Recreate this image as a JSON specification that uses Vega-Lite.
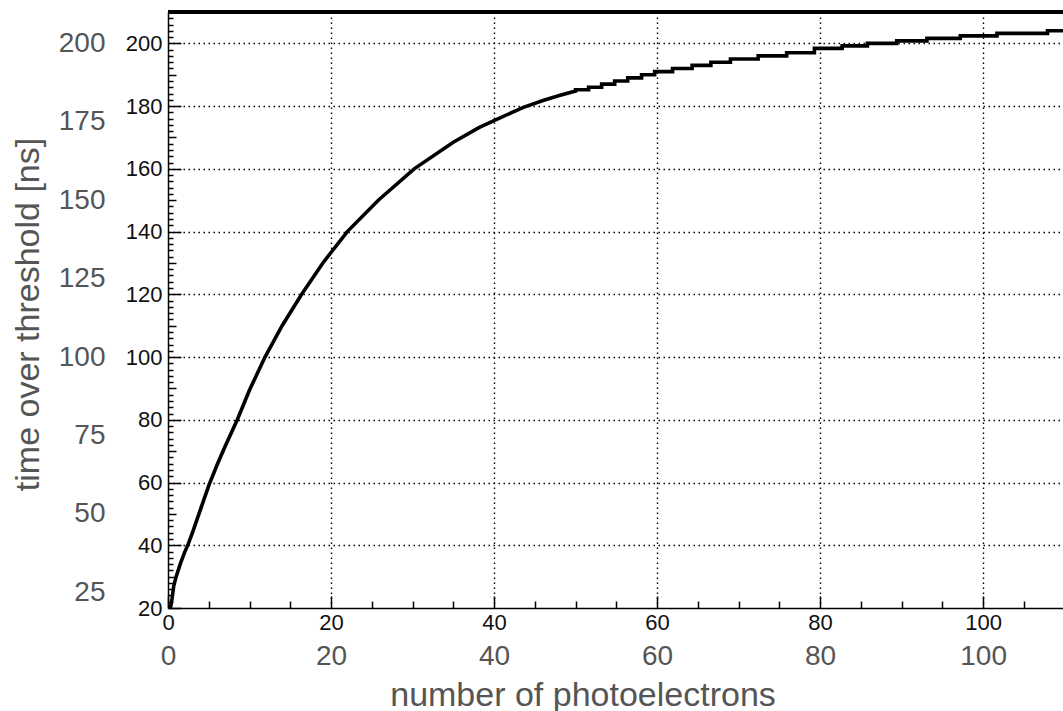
{
  "$schema": "https://vega.github.io/schema/vega-lite/v6.json",
  "width": 895,
  "height": 596,
  "autosize": {"type": "none"},
  "padding": {"left": 168, "top": 12, "right": 0, "bottom": 103},
  "background": "white",
  "config": {"view": {"stroke": null}, "font": "Liberation Sans"},
  "data": {
    "values": [
      {"photoelectrons": 0, "tot_ns": 20},
      {"photoelectrons": 0.3, "tot_ns": 20},
      {"photoelectrons": 0.5, "tot_ns": 23},
      {"photoelectrons": 0.7, "tot_ns": 27},
      {"photoelectrons": 1.0, "tot_ns": 30},
      {"photoelectrons": 1.5, "tot_ns": 34},
      {"photoelectrons": 2.0, "tot_ns": 37.5},
      {"photoelectrons": 2.5, "tot_ns": 40.5},
      {"photoelectrons": 3.0, "tot_ns": 44},
      {"photoelectrons": 4.0, "tot_ns": 51.5},
      {"photoelectrons": 5.0, "tot_ns": 59},
      {"photoelectrons": 6.0, "tot_ns": 65.5},
      {"photoelectrons": 7.0, "tot_ns": 71.5},
      {"photoelectrons": 8.5, "tot_ns": 80},
      {"photoelectrons": 10, "tot_ns": 89.5},
      {"photoelectrons": 11.9, "tot_ns": 100},
      {"photoelectrons": 14, "tot_ns": 110},
      {"photoelectrons": 16.4, "tot_ns": 120},
      {"photoelectrons": 19, "tot_ns": 130},
      {"photoelectrons": 22, "tot_ns": 140},
      {"photoelectrons": 25.8, "tot_ns": 150},
      {"photoelectrons": 30.2, "tot_ns": 160},
      {"photoelectrons": 35, "tot_ns": 168.5},
      {"photoelectrons": 38.2, "tot_ns": 173.2},
      {"photoelectrons": 40, "tot_ns": 175.4},
      {"photoelectrons": 43.6, "tot_ns": 179.6},
      {"photoelectrons": 46, "tot_ns": 181.8},
      {"photoelectrons": 48, "tot_ns": 183.4},
      {"photoelectrons": 50, "tot_ns": 184.8},
      {"photoelectrons": 50, "tot_ns": 185.2},
      {"photoelectrons": 51.6, "tot_ns": 185.2},
      {"photoelectrons": 51.6, "tot_ns": 186},
      {"photoelectrons": 53.2, "tot_ns": 186},
      {"photoelectrons": 53.2, "tot_ns": 187},
      {"photoelectrons": 54.8, "tot_ns": 187},
      {"photoelectrons": 54.8, "tot_ns": 188},
      {"photoelectrons": 56.4, "tot_ns": 188},
      {"photoelectrons": 56.4, "tot_ns": 189},
      {"photoelectrons": 58.1, "tot_ns": 189},
      {"photoelectrons": 58.1, "tot_ns": 190},
      {"photoelectrons": 59.7, "tot_ns": 190},
      {"photoelectrons": 59.7, "tot_ns": 191},
      {"photoelectrons": 61.9, "tot_ns": 191},
      {"photoelectrons": 61.9, "tot_ns": 192},
      {"photoelectrons": 64.3, "tot_ns": 192},
      {"photoelectrons": 64.3, "tot_ns": 193},
      {"photoelectrons": 66.6, "tot_ns": 193},
      {"photoelectrons": 66.6, "tot_ns": 194},
      {"photoelectrons": 69, "tot_ns": 194},
      {"photoelectrons": 69, "tot_ns": 195},
      {"photoelectrons": 72.4, "tot_ns": 195},
      {"photoelectrons": 72.4, "tot_ns": 196},
      {"photoelectrons": 75.9, "tot_ns": 196},
      {"photoelectrons": 75.9, "tot_ns": 197},
      {"photoelectrons": 79.3, "tot_ns": 197},
      {"photoelectrons": 79.3, "tot_ns": 198.4},
      {"photoelectrons": 82.7, "tot_ns": 198.4},
      {"photoelectrons": 82.7, "tot_ns": 199.2},
      {"photoelectrons": 85.8, "tot_ns": 199.2},
      {"photoelectrons": 85.8, "tot_ns": 200},
      {"photoelectrons": 89.4, "tot_ns": 200},
      {"photoelectrons": 89.4, "tot_ns": 200.8},
      {"photoelectrons": 93.1, "tot_ns": 200.8},
      {"photoelectrons": 93.1, "tot_ns": 201.6},
      {"photoelectrons": 97.2, "tot_ns": 201.6},
      {"photoelectrons": 97.2, "tot_ns": 202.4},
      {"photoelectrons": 101.7, "tot_ns": 202.4},
      {"photoelectrons": 101.7, "tot_ns": 203.2},
      {"photoelectrons": 107.9, "tot_ns": 203.2},
      {"photoelectrons": 107.9, "tot_ns": 204},
      {"photoelectrons": 110, "tot_ns": 204}
    ]
  },
  "layer": [
    {
      "mark": {"type": "line", "color": "black", "strokeWidth": 3.6, "clip": true},
      "encoding": {
        "x": {
          "field": "photoelectrons",
          "type": "quantitative",
          "scale": {"domain": [0, 109.8], "nice": false, "zero": false},
          "axis": {
            "orient": "bottom",
            "title": null,
            "values": [0, 5, 10, 15, 20, 25, 30, 35, 40, 45, 50, 55, 60, 65, 70, 75, 80, 85, 90, 95, 100, 105],
            "domain": true,
            "domainColor": "black",
            "domainWidth": 1.5,
            "grid": true,
            "gridColor": "black",
            "gridDash": [1.5, 3.5],
            "gridWidth": 1.4,
            "gridOpacity": {"condition": {"test": "datum.value % 20 === 0 && datum.value > 0", "value": 1}, "value": 0},
            "ticks": true,
            "tickColor": "black",
            "tickWidth": 1.5,
            "tickSize": {"condition": {"test": "datum.value % 20 === 0", "value": -12}, "value": -7},
            "labelExpr": "datum.value % 20 === 0 ? datum.label : ''",
            "labelFont": "Liberation Sans",
            "labelFontSize": 22,
            "labelColor": "#111111",
            "labelPadding": 16,
            "labelFlush": false,
            "labelOverlap": false,
            "labelBound": false
          }
        },
        "y": {
          "field": "tot_ns",
          "type": "quantitative",
          "scale": {"domain": [20, 210], "nice": false, "zero": false},
          "axis": {
            "orient": "left",
            "title": null,
            "values": [20, 22, 24, 26, 28, 30, 32, 34, 36, 38, 40, 42, 44, 46, 48, 50, 52, 54, 56, 58, 60, 62, 64, 66, 68, 70, 72, 74, 76, 78, 80, 82, 84, 86, 88, 90, 92, 94, 96, 98, 100, 102, 104, 106, 108, 110, 112, 114, 116, 118, 120, 122, 124, 126, 128, 130, 132, 134, 136, 138, 140, 142, 144, 146, 148, 150, 152, 154, 156, 158, 160, 162, 164, 166, 168, 170, 172, 174, 176, 178, 180, 182, 184, 186, 188, 190, 192, 194, 196, 198, 200, 202, 204, 206, 208],
            "domain": true,
            "domainColor": "black",
            "domainWidth": 1.5,
            "grid": true,
            "gridColor": "black",
            "gridDash": [1.5, 3.5],
            "gridWidth": 1.4,
            "gridOpacity": {"condition": {"test": "datum.value % 20 === 0 && datum.value > 20", "value": 1}, "value": 0},
            "ticks": true,
            "tickColor": "black",
            "tickWidth": 1.5,
            "tickSize": {"condition": [{"test": "datum.value % 20 === 0", "value": -13}, {"test": "datum.value % 10 === 0", "value": -8}], "value": -5},
            "labelExpr": "datum.value % 20 === 0 ? datum.label : ''",
            "labelFont": "Liberation Sans",
            "labelFontSize": 22,
            "labelColor": "#111111",
            "labelPadding": 19,
            "labelFlush": false,
            "labelOverlap": false,
            "labelBound": false
          }
        }
      }
    },
    {
      "mark": {"type": "rule", "color": "black", "strokeWidth": 3},
      "encoding": {"y": {"datum": 210, "type": "quantitative", "axis": null}}
    },
    {
      "mark": {"type": "point", "opacity": 0},
      "encoding": {
        "x": {
          "datum": 0,
          "type": "quantitative",
          "axis": {
            "orient": "bottom",
            "values": [0, 20, 40, 60, 80, 100],
            "domain": false,
            "ticks": false,
            "grid": false,
            "labelFont": "Liberation Sans",
            "labelFontSize": 28,
            "labelColor": "#555555",
            "labelPadding": 34,
            "labelFlush": false,
            "labelOverlap": false,
            "labelBound": false,
            "title": "number of photoelectrons",
            "titleFont": "Liberation Sans",
            "titleFontSize": 34,
            "titleFontWeight": "normal",
            "titleColor": "#555555",
            "titleX": 414.5,
            "titleY": 97,
            "titleAlign": "center",
            "titleBaseline": "alphabetic"
          }
        },
        "y": {
          "datum": 20,
          "type": "quantitative",
          "axis": {
            "orient": "left",
            "values": [25, 50, 75, 100, 125, 150, 175, 200],
            "domain": false,
            "ticks": false,
            "grid": false,
            "labelFont": "Liberation Sans",
            "labelFontSize": 28,
            "labelColor": "#555555",
            "labelPadding": 63,
            "labelFlush": false,
            "labelOverlap": false,
            "labelBound": false,
            "title": "time over threshold [ns]",
            "titleFont": "Liberation Sans",
            "titleFontSize": 34,
            "titleFontWeight": "normal",
            "titleColor": "#555555",
            "titleAngle": -90,
            "titleX": -140,
            "titleY": 302,
            "titleAlign": "center",
            "titleBaseline": "middle"
          }
        }
      }
    }
  ],
  "resolve": {"axis": {"x": "independent", "y": "independent"}}
}
